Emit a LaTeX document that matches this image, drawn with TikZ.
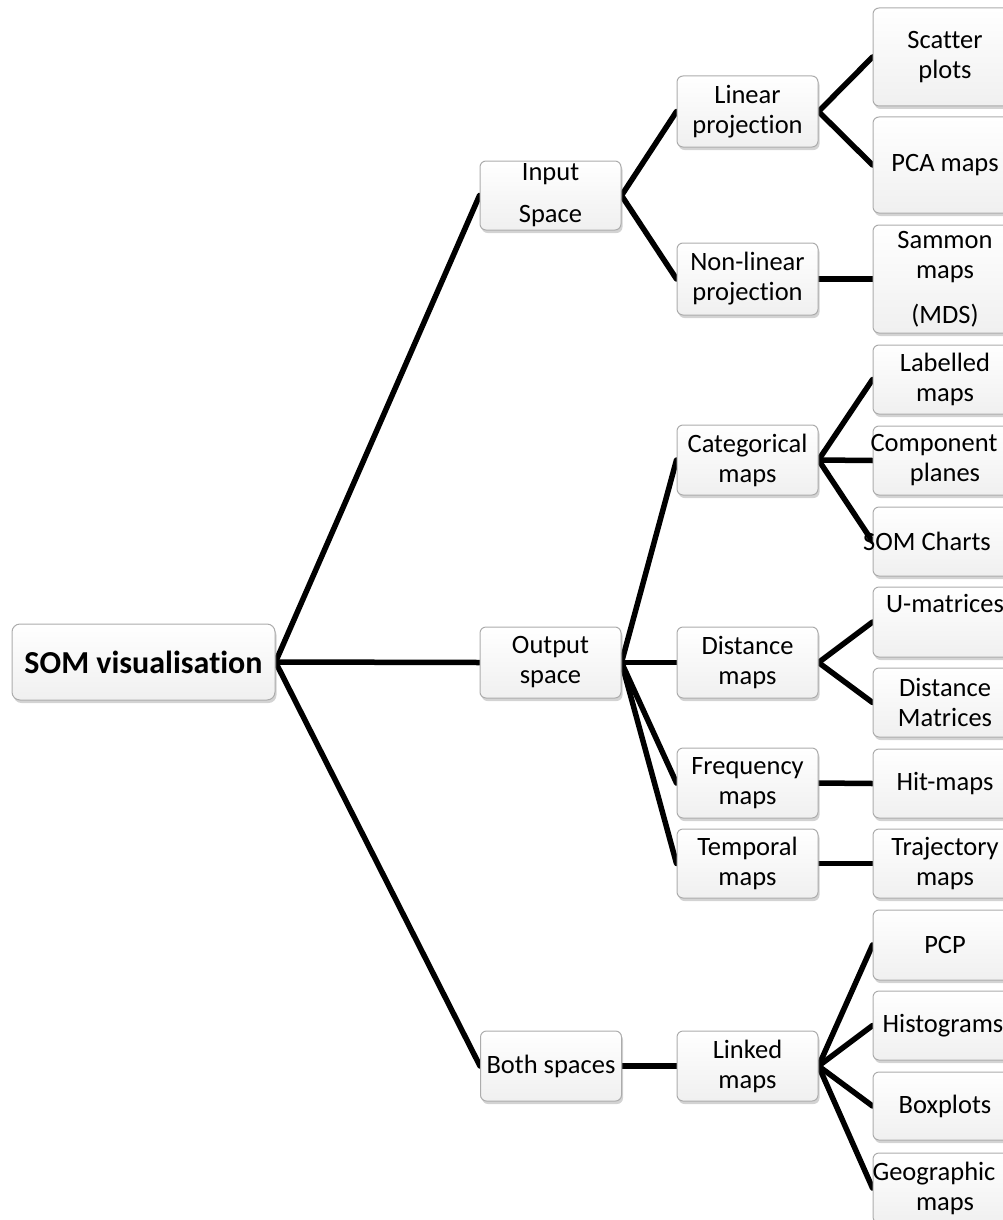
\documentclass[tikz,border=0pt]{standalone}
\usepackage{fontspec}
\setmainfont{Carlito}[Ligatures=NoCommon]
\usetikzlibrary{shadows,backgrounds}
\begin{document}
\begin{tikzpicture}[x=1pt,y=-1pt,
  box/.style={draw=gray!65, line width=1pt, rounded corners=6pt,
    top color=white, bottom color=gray!12,
    drop shadow={shadow xshift=1.5pt, shadow yshift=-3pt, opacity=0.35, fill=gray},
    align=center, inner sep=0pt, font=\fontsize{26.5}{30}\selectfont},
  midbox/.style={box, minimum width=141pt},
  leafbox/.style={box, minimum width=144pt},
  link/.style={line width=5.5pt, line cap=round}]
\useasboundingbox (0,0) rectangle (1003,1220);

% root
\node[box, minimum width=263pt, minimum height=76pt, rounded corners=8pt,
      font=\fontsize{32}{38}\selectfont\bfseries] (root) at (143.5,662) {SOM visualisation};

% level 1
\node[midbox, minimum height=69pt] (input)  at (550.5,195.5) {Input\\[12pt]Space};
\node[midbox, minimum height=71pt] (output) at (550.5,662.5) {Output\\space};
\node[midbox, minimum height=70pt] (both)   at (551,1066)    {Both spaces};

% level 2
\node[midbox, minimum height=71pt] (linear)      at (747.5,111.5) {Linear\\projection};
\node[midbox, minimum height=72pt] (nonlinear)   at (747.5,279)   {Non-linear\\projection};
\node[midbox, minimum height=70pt] (categorical) at (747.5,460)   {Categorical\\maps};
\node[midbox, minimum height=71pt] (distance)    at (747.5,662.5) {Distance\\maps};
\node[midbox, minimum height=70pt] (frequency)   at (747.5,783)   {Frequency\\maps};
\node[midbox, minimum height=69pt] (temporal)    at (747.5,863.5) {Temporal\\maps};
\node[midbox, minimum height=70pt] (linked)      at (747.5,1066)  {Linked\\maps};

% leaves
\node[leafbox, minimum height=98pt]  (scatter)    at (945,57)     {Scatter\\plots};
\node[leafbox, minimum height=96pt]  (pca)        at (945,165)    {PCA maps};
\node[leafbox, minimum height=108pt] (sammon)     at (945,279)    {Sammon\\maps\\[15pt](MDS)};
\node[leafbox, minimum height=69pt]  (labelled)   at (945,379.5)  {Labelled\\maps};
\node[leafbox, minimum height=69pt]  (component)  at (945,460.5)  {\hspace*{-22pt}Component\\planes};
\node[leafbox, minimum height=69pt]  (somcharts)  at (945,541.5)  {\hspace*{-36pt}SOM Charts};
\node[leafbox, minimum height=70pt]  (umatrices)  at (945,622)    {U-matrices\\[8pt]};
\node[leafbox, minimum height=69pt]  (distmat)    at (945,702.5)  {Distance\\Matrices};
\node[leafbox, minimum height=69pt]  (hitmaps)    at (945,783.5)  {Hit-maps};
\node[leafbox, minimum height=69pt]  (trajectory) at (945,863.5)  {Trajectory\\maps};
\node[leafbox, minimum height=70pt]  (pcp)        at (945,945)    {PCP};
\node[leafbox, minimum height=69pt]  (histograms) at (945,1025.5) {\hspace*{-4pt}Histograms};
\node[leafbox, minimum height=68pt]  (boxplots)   at (945,1106)   {Boxplots};
\node[leafbox, minimum height=70pt]  (geographic) at (945,1188)   {\hspace*{-22pt}Geographic\\maps};

\begin{scope}[on background layer]
  \draw[link] (root.east) -- (input.west);
  \draw[link] (root.east) -- (output.west);
  \draw[link] (root.east) -- (both.west);

  \draw[link] (input.east) -- (linear.west);
  \draw[link] (input.east) -- (nonlinear.west);
  \draw[link] (output.east) -- (categorical.west);
  \draw[link] (output.east) -- (distance.west);
  \draw[link] (output.east) -- (frequency.west);
  \draw[link] (output.east) -- (temporal.west);
  \draw[link] (both.east) -- (linked.west);

  \draw[link] (linear.east) -- (scatter.west);
  \draw[link] (linear.east) -- (pca.west);
  \draw[link] (nonlinear.east) -- (sammon.west);
  \draw[link] (categorical.east) -- (labelled.west);
  \draw[link] (categorical.east) -- (component.west);
  \draw[link] (categorical.east) -- (somcharts.west);
  \draw[link] (distance.east) -- (umatrices.west);
  \draw[link] (distance.east) -- (distmat.west);
  \draw[link] (frequency.east) -- (hitmaps.west);
  \draw[link] (temporal.east) -- (trajectory.west);
  \draw[link] (linked.east) -- (pcp.west);
  \draw[link] (linked.east) -- (histograms.west);
  \draw[link] (linked.east) -- (boxplots.west);
  \draw[link] (linked.east) -- (geographic.west);
\end{scope}
\end{tikzpicture}
\end{document}
